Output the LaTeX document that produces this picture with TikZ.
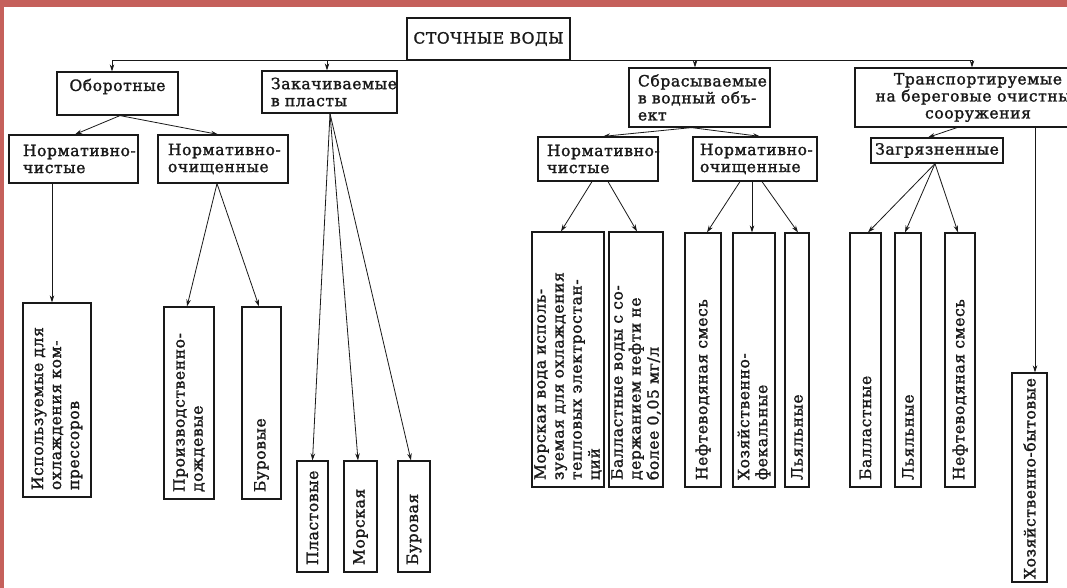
\documentclass[tikz,border=0pt]{standalone}
\usepackage{fontspec}
\newfontfamily\tw{DejaVu Serif}[LetterSpace=4,FakeBold=1.6]
\usetikzlibrary{arrows.meta}
\definecolor{framecol}{RGB}{197,96,91}
\definecolor{ink}{RGB}{25,25,25}
\newcommand\mb[1]{\mbox{#1}}
\begin{document}
\begin{tikzpicture}[x=1pt,y=-1pt,
  font=\tw\fontsize{15.5}{17}\selectfont,
  hb/.style={draw=ink, line width=1.2pt, inner ysep=0pt, text=ink},
  hl/.style={hb, align=left},
  vb/.style={draw=ink, line width=1.2pt, rotate=90, inner ysep=0pt, inner xsep=7pt,
     align=left, text=ink, font=\tw\fontsize{15.5}{18}\selectfont},
  arr/.style={draw=ink, line width=0.8pt, -{Stealth[length=7pt,width=4.5pt]}}]
\useasboundingbox (0,0) rectangle (1067,588);
\clip (0,0) rectangle (1067,588);
\fill[white] (0,0) rectangle (1067,588);
\fill[framecol] (0,0) rectangle (1067,7);
\fill[framecol] (0,0) rectangle (4,588);

% level 0
\node[hb, minimum width=163pt, minimum height=42pt] (top) at (488.5,39) {СТОЧНЫЕ ВОДЫ};
% level 1
\node[hb, minimum width=121pt, minimum height=43pt] (obor) at (117.5,93.5)
  {\raisebox{7pt}[\height][\depth]{Оборотные}};
\node[hl, minimum width=135pt, minimum height=42pt, inner xsep=9pt, text width=117pt] (zak) at (329.5,92)
  {\mb{Закачиваемые}\\\mb{в пласты}};
\node[hl, minimum width=141pt, minimum height=59pt, inner xsep=9pt, text width=123pt] (sbr) at (699.5,97.5)
  {\mb{Сбрасываемые}\\\mb{в водный объ-}\\\mb{ект}};
\node[hb, minimum width=246pt, minimum height=59pt, align=center] (tr) at (978,97.5)
  {Транспортируемые\\на береговые очистные\\сооружения};
% level 2
\node[hl, minimum width=129pt, minimum height=48pt, inner xsep=14pt, text width=101pt] (nchL) at (73.5,159)
  {\mb{Нормативно-}\\\mb{чистые}};
\node[hl, minimum width=130pt, minimum height=48pt, inner xsep=10pt, text width=110pt] (nocL) at (223,159)
  {\mb{Нормативно-}\\\mb{очищенные}};
\node[hl, minimum width=120pt, minimum height=44pt, inner xsep=9pt, text width=102pt] (nchR) at (598,159)
  {\mb{Нормативно-}\\\mb{чистые}};
\node[hl, minimum width=124pt, minimum height=44pt, inner xsep=7pt, text width=110pt] (nocR) at (755,159)
  {\mb{Нормативно-}\\\mb{очищенные}};
\node[hb, minimum width=132pt, minimum height=25pt] (zag) at (937,150.5) {Загрязненные};

% vertical boxes
\node[vb, minimum width=194pt, minimum height=68pt, text width=180pt] (isp) at (57,400)
  {\mb{Используемые для}\\\mb{охлаждения ком-}\\\mb{прессоров}};
\node[vb, minimum width=192pt, minimum height=50pt, text width=178pt] (proizv) at (189,403)
  {\mb{Производственно-}\\\mb{дождевые}};
\node[vb, minimum width=192pt, minimum height=39pt, text width=178pt] (burA) at (261.5,403)
  {\mb{Буровые}};
\node[vb, minimum width=111pt, minimum height=31pt, text width=97pt] (plast) at (312.5,516.5)
  {\mb{Пластовые}};
\node[vb, minimum width=111pt, minimum height=33pt, text width=97pt] (morsk) at (360.5,516.5)
  {\mb{Морская}};
\node[vb, minimum width=111pt, minimum height=32pt, text width=97pt] (burB) at (414,516.5)
  {\mb{Буровая}};
\node[vb, minimum width=255pt, minimum height=72pt, text width=241pt] (mv) at (568,359.5)
  {\mb{Морская вода исполь-}\\\mb{зуемая для охлаждения}\\\mb{тепловых электростан-}\\\mb{ций}};
\node[vb, minimum width=255pt, minimum height=54pt, text width=241pt] (ballA) at (636,359.5)
  {\mb{Балластные воды с со-}\\\mb{держанием нефти не}\\\mb{более 0,05 мг/л}};
\node[vb, minimum width=254pt, minimum height=36pt, text width=240pt] (neftA) at (703,360)
  {\mb{Нефтеводяная смесь}};
\node[vb, minimum width=254pt, minimum height=42pt, text width=240pt] (hozf) at (754,360)
  {\mb{Хозяйственно-}\\\mb{фекальные}};
\node[vb, minimum width=254pt, minimum height=24pt, text width=240pt] (lyalA) at (797,360)
  {\mb{Льяльные}};
\node[vb, minimum width=254pt, minimum height=31pt, text width=240pt] (ballB) at (865.5,360)
  {\mb{Балластные}};
\node[vb, minimum width=254pt, minimum height=26pt, text width=240pt] (lyalB) at (908,360)
  {\mb{Льяльные}};
\node[vb, minimum width=254pt, minimum height=30pt, text width=240pt] (neftB) at (960,360)
  {\mb{Нефтеводяная смесь}};
\node[vb, minimum width=209pt, minimum height=35pt, inner xsep=3pt, text width=203pt] (hozb) at (1029.5,477.5)
  {\mb{Хозяйственно-бытовые}};

% connectors: bus
\draw[arr] (top.south west) -| ([xshift=-5.5pt]obor.north);
\draw[arr] (top.south west) -| ([xshift=-2.5pt]zak.north);
\draw[arr] (top.south east) -| ([xshift=-4.5pt]sbr.north);
\draw[arr] (top.south east) -| ([xshift=-6pt]tr.north);
% Оборотные
\draw[arr] ([xshift=2.5pt]obor.south) -- ([xshift=1.5pt]nchL.north);
\draw[arr] ([xshift=2.5pt]obor.south) -- ([xshift=-5pt]nocL.north);
\draw[arr] ([xshift=-21.5pt]nchL.south) -- ([xshift=-5pt]isp.east);
\draw[arr] ([xshift=-6pt]nocL.south) -- ([xshift=-2pt]proizv.east);
\draw[arr] ([xshift=-6pt]nocL.south) -- ([xshift=-2.5pt]burA.east);
% Закачиваемые
\draw[arr] ([xshift=0.5pt]zak.south) -- (plast.east);
\draw[arr] ([xshift=0.5pt]zak.south) -- ([xshift=-2.5pt]morsk.east);
\draw[arr] ([xshift=0.5pt]zak.south) -- ([xshift=-3pt]burB.east);
% Сбрасываемые
\draw[arr] ([xshift=-8pt]sbr.south) -- ([xshift=5pt]nchR.north);
\draw[arr] ([xshift=-8pt]sbr.south) -- ([xshift=5pt]nocR.north);
\draw[arr] ([xshift=-6pt]nchR.south) -- ([xshift=-7pt]mv.east);
\draw[arr] ([xshift=10pt]nchR.south) -- ([xshift=1pt]ballA.east);
\draw[arr] ([xshift=-15pt]nocR.south) -- ([xshift=4pt]neftA.east);
\draw[arr] ([xshift=-3pt]nocR.south) -- ([xshift=-2pt]hozf.east);
\draw[arr] ([xshift=7pt]nocR.south) -- ([xshift=1pt]lyalA.east);
% Транспортируемые
\draw[arr] ([xshift=-21pt]tr.south) -- ([xshift=-9pt]zag.north);
\draw[arr] ([xshift=57pt]tr.south) -- ([xshift=5.5pt]hozb.east);
\draw[arr] ([xshift=-2pt]zag.south) -- ([xshift=2.5pt]ballB.east);
\draw[arr] ([xshift=-2pt]zag.south) -- ([xshift=-3pt]lyalB.east);
\draw[arr] ([xshift=-2pt]zag.south) -- ([xshift=-2pt]neftB.east);
\end{tikzpicture}
\end{document}
